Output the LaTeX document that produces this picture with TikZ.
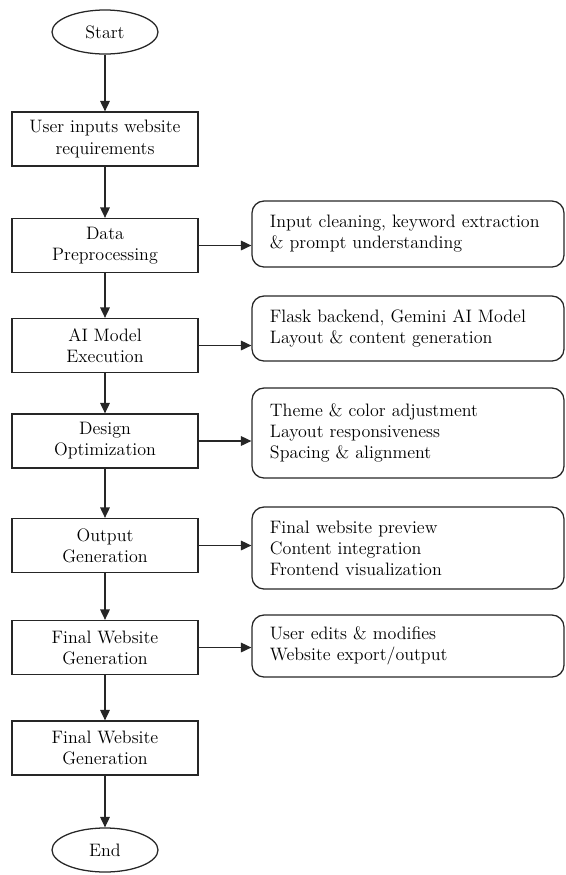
\documentclass[tikz,border=0pt]{standalone}
\usetikzlibrary{shapes.geometric,arrows.meta}
\def\bw{46.5mm}
\def\bh{13.5mm}
\def\rw{78mm}
\def\lx{105}
\def\rx{408}

\tikzset{
  stepbox/.style={draw=black!85,line width=0.9pt,rectangle,minimum width=\bw,minimum height=\bh,align=center,inner sep=1mm},
  notebox/.style={draw=black!85,line width=0.9pt,rectangle,rounded corners=3mm,minimum width=\rw,text width=69mm,inner xsep=4.5mm,align=left},
  term/.style={draw=black!85,line width=0.9pt,ellipse,minimum width=26.5mm,minimum height=11mm,inner sep=0pt},
  arr/.style={draw=black!85,line width=0.9pt,-{Triangle[length=2.6mm,width=2.4mm]}}
}

\begin{document}
\begin{tikzpicture}[x=0.25mm,y=-0.25mm,font=\fontsize{12.8}{15}\selectfont]

%page is 565 x 875, one unit is one pixel of the sketch
\useasboundingbox (0,0) rectangle (565,875);

% main column
\node[term] (start) at (\lx,32) {Start};
\node[stepbox] (b1) at (\lx,139) {User inputs website\\requirements};
\node[stepbox] (b2) at (\lx,245.5) {Data\\Preprocessing};
\node[stepbox] (b3) at (\lx,345.5) {AI Model\\Execution};
\node[stepbox] (b4) at (\lx,441) {Design\\Optimization};
\node[stepbox] (b5) at (\lx,545.5) {Output\\Generation};
\node[stepbox] (b6) at (\lx,647.5) {Final Website\\Generation};
\node[stepbox] (b7) at (\lx,748) {Final Website\\Generation};
\node[term] (end) at (\lx,850) {End};

% side notes
\node[notebox,minimum height=16.5mm] (r1) at (\rx,234) {Input cleaning, keyword extraction\\\& prompt understanding};
\node[notebox,minimum height=16.25mm] (r2) at (\rx,328.5) {Flask backend, Gemini AI Model\\Layout \& content generation};
\node[notebox,minimum height=22.5mm] (r3) at (\rx,433) {Theme \& color adjustment\\Layout responsiveness\\Spacing \& alignment};
\node[notebox,minimum height=20.5mm] (r4) at (\rx,548) {Final website preview\\Content integration\\Frontend visualization};
\node[notebox,minimum height=15.5mm] (r5) at (\rx,646) {User edits \& modifies\\Website export/output};

\foreach \a/\b in {start/b1,b1/b2,b2/b3,b3/b4,b4/b5,b5/b6,b6/b7,b7/end}{
   \draw[arr] (\a) -- (\b);
}

\foreach \a/\b in {b2/r1,b3/r2,b4/r3,b5/r4,b6/r5}{
   \draw[arr] (\a.east) -- (\a.east -| \b.west);
}

\end{tikzpicture}
\end{document}
